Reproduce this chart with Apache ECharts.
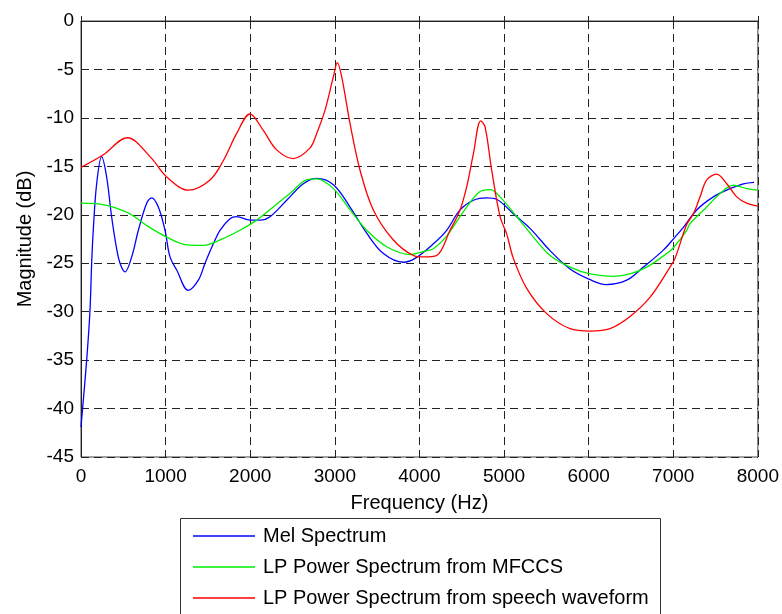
<!DOCTYPE html>
<html>
<head>
<meta charset="utf-8">
<script src="https://cdn.jsdelivr.net/npm/echarts@6/dist/echarts.min.js"></script>
<style>
html,body{margin:0;padding:0;background:#fff;}
#chart{width:782px;height:614px;}
</style>
</head>
<body>
<div id="chart"></div>
<script>
// ---- Data (frequency in Hz, magnitude in dB) ----
var seriesNames = ['Mel Spectrum', 'LP Power Spectrum from MFCCS', 'LP Power Spectrum from speech waveform'];
var xTicks = [0, 1000, 2000, 3000, 4000, 5000, 6000, 7000, 8000];
var yTicks = [0, -5, -10, -15, -20, -25, -30, -35, -40, -45];

var melFreq = [0, 67, 106, 126, 145, 185, 244, 303, 362, 421, 461, 520, 599, 678, 776, 835, 914, 993, 1052, 1131, 1268, 1387, 1466, 1564, 1643, 1761, 1840, 1998, 2116, 2234, 2431, 2628, 2786, 2983, 3180, 3377, 3574, 3810, 3948, 4164, 4322, 4480, 4638, 4795, 4913, 5110, 5307, 5544, 5780, 6017, 6206, 6450, 6647, 6883, 7021, 7120, 7277, 7474, 7671, 7829, 7955];
var melDb   = [-41.9, -35, -29.9, -25, -21.6, -16.8, -14.0, -16.1, -20.2, -23.5, -25.0, -25.9, -24.35, -21.6, -18.8, -18.25, -19.2, -21.6, -24.35, -25.7, -27.8, -26.75, -25.0, -23.0, -21.6, -20.4, -20.2, -20.55, -20.55, -20.2, -18.5, -16.8, -16.25, -16.9, -19.2, -21.9, -24.0, -24.9, -24.5, -23.0, -21.6, -19.5, -18.5, -18.25, -18.4, -19.9, -21.4, -23.7, -25.6, -26.7, -27.2, -26.75, -25.4, -23.65, -22.3, -21.3, -19.5, -18.15, -17.3, -16.8, -16.65];

var mfccFreq = [0, 225, 382, 579, 776, 1013, 1249, 1446, 1643, 1879, 2076, 2273, 2470, 2667, 2786, 2983, 3180, 3377, 3613, 3889, 4046, 4164, 4322, 4440, 4559, 4716, 4835, 4953, 5150, 5347, 5544, 5780, 6017, 6292, 6489, 6686, 6923, 7002, 7159, 7199, 7396, 7553, 7711, 7868, 8000];
var mfccDb   = [-18.8, -18.9, -19.2, -19.9, -21.1, -22.3, -23.1, -23.15, -22.6, -21.6, -20.55, -19.2, -17.8, -16.4, -16.3, -17.3, -19.5, -21.6, -23.3, -24.1, -23.8, -23.5, -22.2, -20.7, -19.2, -17.6, -17.4, -18.15, -20.2, -22.3, -24.2, -25.4, -26.1, -26.35, -26.1, -25.4, -24.0, -23.4, -21.6, -20.9, -19.2, -17.8, -16.95, -17.3, -17.45];

var lpFreq = [0, 264, 547, 816, 1013, 1268, 1525, 1683, 1840, 1998, 2155, 2313, 2510, 2707, 2786, 2884, 2983, 3030, 3081, 3180, 3298, 3455, 3692, 3928, 4046, 4204, 4362, 4480, 4559, 4638, 4724, 4775, 4854, 4953, 5032, 5110, 5268, 5504, 5780, 6017, 6253, 6489, 6726, 6962, 7021, 7159, 7238, 7317, 7396, 7514, 7632, 7750, 7868, 8000];
var lpDb   = [-15.1, -13.8, -12.05, -14.0, -16.1, -17.46, -16.4, -14.4, -11.6, -9.6, -11.3, -13.3, -14.2, -13.1, -11.6, -9.2, -5.75, -4.3, -5.75, -10.6, -15.4, -19.5, -22.6, -24.2, -24.35, -24.2, -21.6, -19.5, -17.1, -13.7, -10.3, -10.9, -15.4, -20.2, -22.0, -24.5, -27.6, -30.2, -31.75, -32.0, -31.75, -30.5, -28.5, -25.4, -24.5, -21.0, -19.9, -18.15, -16.4, -15.8, -16.8, -18.15, -18.8, -19.1];

function pairs(xs, ys) { return xs.map(function (x, i) { return [x, ys[i]]; }); }

var FONT = '"Liberation Sans", Arial, sans-serif';
var chart = echarts.init(document.getElementById('chart'), null, {renderer: 'canvas'});

var gridLine = {show: true, lineStyle: {color: '#222', type: [8, 5], width: 1}};

var option = {
  backgroundColor: '#ffffff',
  animation: false,
  textStyle: {fontFamily: FONT},
  grid: {left: 81, right: 24, top: 21, bottom: 157, show: true, borderColor: '#444', borderWidth: 1, backgroundColor: 'transparent'},
  xAxis: {
    type: 'value', min: xTicks[0], max: xTicks[xTicks.length - 1], interval: 1000,
    name: 'Frequency (Hz)', nameLocation: 'middle', nameGap: 36,
    nameTextStyle: {fontSize: 20, color: '#000', fontFamily: FONT},
    axisLine: {show: true, lineStyle: {color: '#222', width: 1}},
    axisTick: {show: true, inside: true, length: 5, lineStyle: {color: '#222'}},
    axisLabel: {fontSize: 19, color: '#000', margin: 10, fontFamily: FONT,
                formatter: function (v) { return String(v); }},
    splitLine: gridLine
  },
  yAxis: {
    type: 'value', min: yTicks[yTicks.length - 1], max: yTicks[0], interval: 5,
    name: 'Magnitude (dB)', nameLocation: 'middle', nameGap: 46, nameRotate: 90,
    nameTextStyle: {fontSize: 20, color: '#000', fontFamily: FONT},
    axisLine: {show: true, lineStyle: {color: '#222', width: 1}},
    axisTick: {show: true, inside: true, length: 5, lineStyle: {color: '#222'}},
    axisLabel: {fontSize: 19, color: '#000', margin: 7, fontFamily: FONT,
                formatter: function (v) { return String(v); }},
    splitLine: gridLine
  },
  legend: {
    orient: 'vertical', left: 193, top: 526, padding: 0,
    itemWidth: 62, itemHeight: 1.5, itemGap: 11, icon: 'rect',
    textStyle: {fontSize: 20, color: '#000', lineHeight: 20, padding: [0, 0, 0, 3], fontFamily: FONT},
    data: seriesNames
  },
  graphic: [{
    type: 'rect', shape: {x: 180.5, y: 518.5, width: 480, height: 120},
    style: {fill: null, stroke: '#333', lineWidth: 1}, z: 0, silent: true
  }],
  series: [
    {name: seriesNames[0], type: 'line', data: pairs(melFreq, melDb), showSymbol: false, smooth: 0.35,
     lineStyle: {color: '#0000ff', width: 1.3}, itemStyle: {color: '#0000ff'}, z: 3},
    {name: seriesNames[1], type: 'line', data: pairs(mfccFreq, mfccDb), showSymbol: false, smooth: 0.35,
     lineStyle: {color: '#00ee00', width: 1.3}, itemStyle: {color: '#00ee00'}, z: 4},
    {name: seriesNames[2], type: 'line', data: pairs(lpFreq, lpDb), showSymbol: false, smooth: 0.35,
     lineStyle: {color: '#ff0000', width: 1.3}, itemStyle: {color: '#ff0000'}, z: 5}
  ]
};
chart.setOption(option);
</script>
</body>
</html>
